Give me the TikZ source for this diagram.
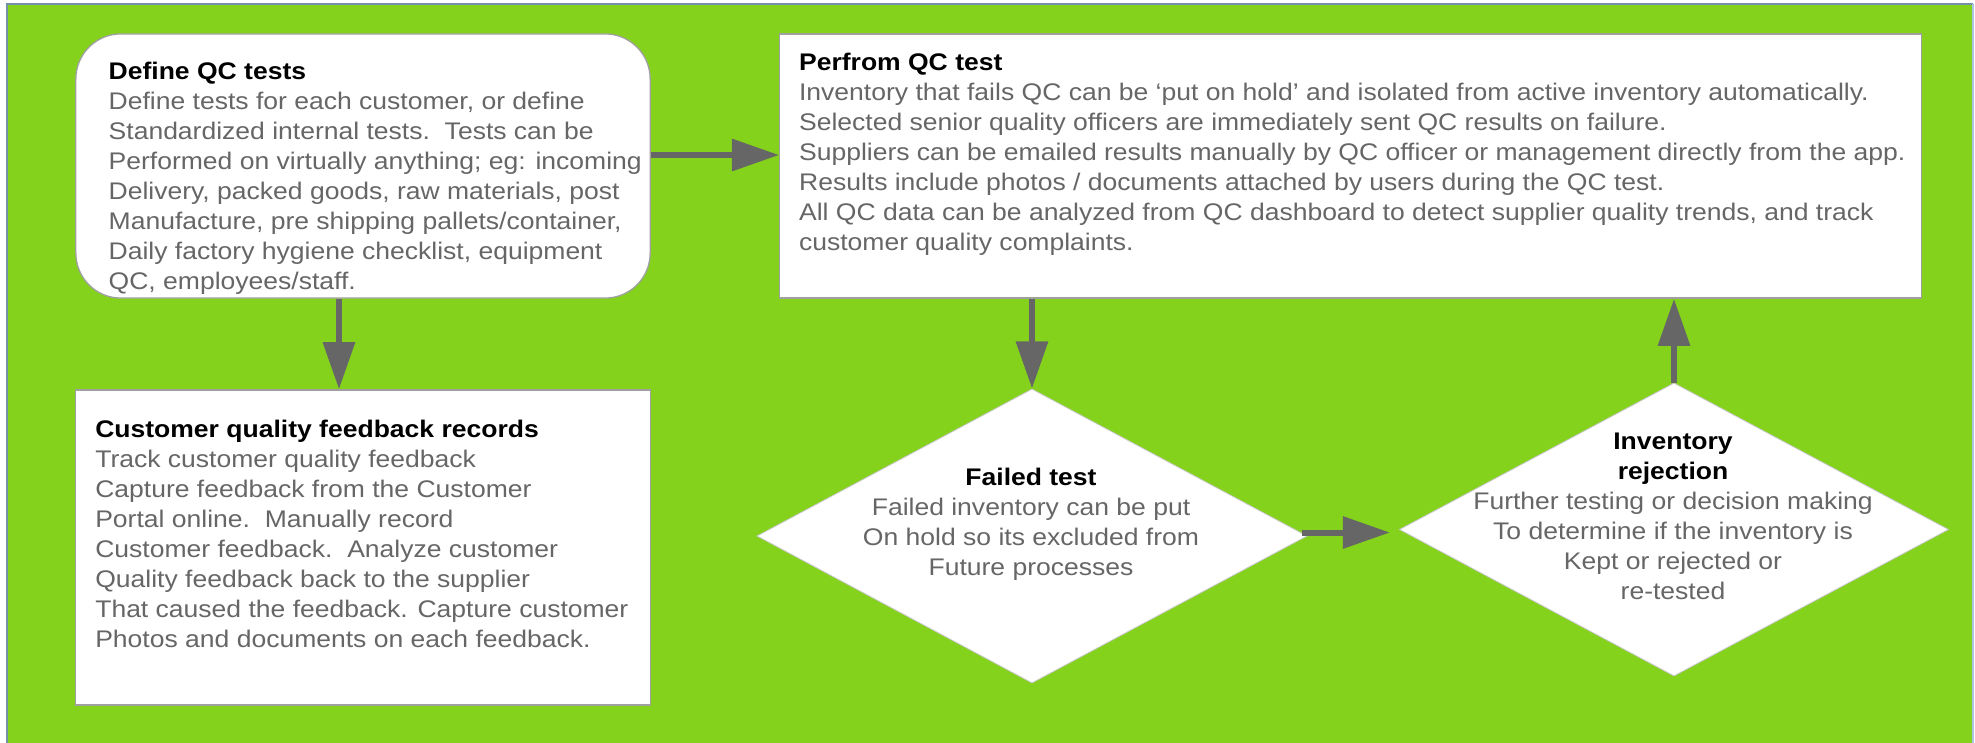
\documentclass[tikz,border=0pt]{standalone}
\usepackage{fontspec}
\setmainfont{Liberation Sans}[FakeStretch=1.104]
\usetikzlibrary{arrows.meta,shapes.geometric,calc}
\definecolor{bggreen}{HTML}{84D21C}
\definecolor{framecol}{HTML}{7391A8}
\definecolor{framecolR}{HTML}{A9C4E8}
\definecolor{boxline}{HTML}{A0A0A0}
\definecolor{txtgray}{HTML}{666666}
\definecolor{arrgray}{HTML}{666666}
\tikzset{
  box/.style={draw=boxline, line width=0.013cm, fill=white, inner sep=0},
  dia/.style={diamond, draw=boxline!60, line width=0.008cm, fill=white, inner sep=0},
  txt/.style={font=\fontsize{6.83}{8.54}\selectfont, text=txtgray, inner sep=0},
  arr/.style={draw=arrgray, line width=0.06cm, -{Triangle[length=0.47cm,width=0.31cm]}, arrgray},
}
\newcommand{\ttl}[1]{\textcolor{black}{\bfseries #1}}
\begin{document}
\begin{tikzpicture}[x=0.01cm,y=-0.01cm]
\useasboundingbox (0,0) rectangle (1975,742);
\fill[bggreen] (7,4) rectangle (1973,746);
\draw[framecol, line width=0.015cm] (7,746) -- (7,4) -- (1973,4);
\draw[framecolR, line width=0.015cm] (1973,4) -- (1973,746);

% boxes
\node[box, rounded corners=0.45cm, minimum width=5.74cm, minimum height=2.64cm] (define) at (363,166) {};
\node[box, minimum width=5.74cm, minimum height=3.15cm] (cust) at (363,547.5) {};
\node[box, minimum width=11.41cm, minimum height=2.64cm] (perform) at (1350.5,166) {};
\node[dia, minimum width=5.5cm, minimum height=2.94cm] (failed) at (1032,536) {};
\node[dia, minimum width=5.49cm, minimum height=2.93cm] (inv) at (1674,529.5) {};

% texts
\node[txt, anchor=base west] (deftxt) at (108,79.3) {\begin{tabular}[t]{@{}l@{}}
\ttl{Define QC tests}\\
Define tests for each customer, or define\\
Standardized internal tests.\ \ Tests can be\\
Performed on virtually anything; eg: incoming\\
Delivery, packed goods, raw materials, post\\
Manufacture, pre shipping pallets/container,\\
Daily factory hygiene checklist, equipment\\
QC, employees/staff.
\end{tabular}};

\node[txt, anchor=base west] (custtxt) at (94.6,437.3) {\begin{tabular}[t]{@{}l@{}}
\ttl{Customer quality feedback records}\\
Track customer quality feedback\\
Capture feedback from the Customer\\
Portal online.\ \ Manually record\\
Customer feedback.\ \ Analyze customer\\
Quality feedback back to the supplier\\
That caused the feedback. Capture customer\\
Photos and documents on each feedback.
\end{tabular}};

\node[txt, anchor=base west] (perftxt) at (798.4,70) {\begin{tabular}[t]{@{}l@{}}
\ttl{Perfrom QC test}\\
Inventory that fails QC can be ‘put on hold’ and isolated from active inventory automatically.\\
Selected senior quality officers are immediately sent QC results on failure.\\
Suppliers can be emailed results manually by QC officer or management directly from the app.\\
Results include photos / documents attached by users during the QC test.\\
All QC data can be analyzed from QC dashboard to detect supplier quality trends, and track\\
customer quality complaints.
\end{tabular}};

\node[txt, anchor=base] (failtxt) at (1031,485) {\begin{tabular}[t]{@{}c@{}}
\ttl{Failed test}\\
Failed inventory can be put\\
On hold so its excluded from\\
Future processes
\end{tabular}};

\node[txt, anchor=base] (invtxt) at (1673,449.3) {\begin{tabular}[t]{@{}c@{}}
\ttl{Inventory}\\
\ttl{rejection}\\
Further testing or decision making\\
To determine if the inventory is\\
Kept or rejected or\\
re-tested
\end{tabular}};

% connectors
\draw[arr] ([xshift=-0.24cm]define.south) -- ([xshift=-0.24cm]cust.north);
\draw[arr] ([yshift=0.11cm]define.east) -- ([yshift=0.11cm]perform.west);
\draw[arr] (failed.north |- perform.south) -- (failed.north);
\draw[arr] ($(failed.east)+(-6,-3.5)$) -- ($(inv.west)+(-9,3)$);
\draw[arr] (inv.north) -- (inv.north |- perform.south);
\end{tikzpicture}
\end{document}
